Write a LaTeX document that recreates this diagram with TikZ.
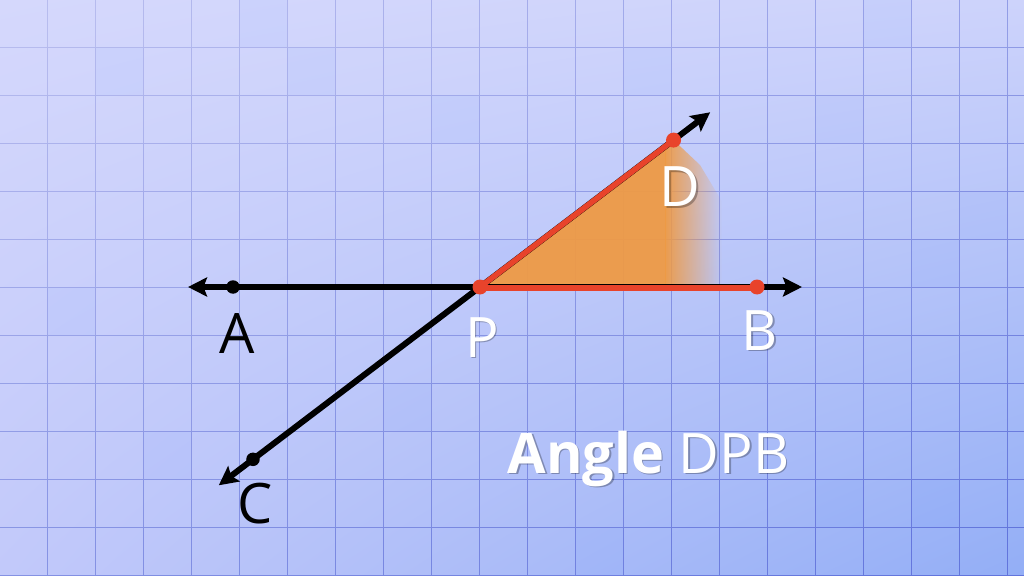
\documentclass[tikz,border=0pt]{standalone}
\usepackage{fontspec}
\setmainfont{Open Sans}
\usetikzlibrary{arrows.meta,fadings,calc,shadings}
\definecolor{bgTL}{HTML}{D5D8FC}
\definecolor{bgTR}{HTML}{CDD3FB}
\definecolor{bgBL}{HTML}{C2C9FA}
\definecolor{bgBR}{HTML}{93AEF6}
\definecolor{gridL}{HTML}{BBBFEF}
\definecolor{gridD}{HTML}{6275DC}
\definecolor{rayred}{HTML}{E8432B}
\definecolor{fillorange}{HTML}{EE9A45}
\tikzfading[name=faderight, left color=transparent!0, right color=transparent!100]
\tikzset{
  ray/.style={line width=6bp, black, >={Stealth[length=19bp,width=19bp,inset=3.5bp]}},
  redray/.style={line width=5.6bp, rayred},
  bdot/.style={circle, fill=black, inner sep=0pt, minimum size=13.5bp},
  rdot/.style={circle, fill=rayred, inner sep=0pt, minimum size=15bp},
  lbl/.style={font=\fontsize{56}{62}\selectfont, inner sep=0pt, anchor=base},
  shadowlbl/.style={lbl, text=black, opacity=0.28},
  cell/.style={fill=blue!70!cyan, opacity=0.035}
}
\begin{document}
\begin{tikzpicture}[x=1bp,y=-1bp]
\useasboundingbox (0,0) rectangle (1024,576);
% background
\shade[upper left=bgTL, upper right=bgTR, lower left=bgBL, lower right=bgBR] (0,0) rectangle (1024,576);
% subtle tinted cells
\foreach \cx/\cy in {5/0,18/0,17/2,2/1,6/1,9/2,13/1,20/4,19/5,1/6,8/8,3/9,17/10,19/10,12/11,15/7,10/5}
  \fill[cell] (47.5+48*\cx-48,47.5+48*\cy-48) rectangle ++(48,48);
% grid
\foreach \k in {-1,...,20} {
  \foreach \j in {0,...,11} {
    \pgfmathtruncatemacro\t{min(100,max(0,(47.5+48*\k)/1024*45+(48*\j+24)/576*60))}
    \draw[line width=1.3bp, gridD!\t!gridL] (47.5+48*\k,48*\j-0.5) -- ++(0,48);
  }
}
\foreach \j in {-1,...,11} {
  \foreach \k in {0,...,21} {
    \pgfmathtruncatemacro\t{min(100,max(0,(48*\k+24)/1024*45+(47.5+48*\j)/576*60))}
    \draw[line width=1.3bp, gridD!\t!gridL] (48*\k-0.5,47.5+48*\j) -- ++(48,0);
  }
}
% key points
\coordinate (P) at (480,287);
\coordinate (Ltip) at (188,287);
\coordinate (Rtip) at (802,287);
\coordinate (Dtip) at ($(P)+(-37.2:289)$);
\coordinate (Ctip) at ($(P)+(142.8:328)$);
\coordinate (Dpt) at ($(P)+(-37.2:243)$);
% orange fill
\begin{scope}
  \clip (P) -- (Dpt) -- (700,165) -- (724,205) -- (724,287) -- cycle;
  \fill[fillorange, opacity=0.95] (478,100) rectangle (666,290);
  \fill[fillorange, opacity=0.95, path fading=faderight] (665,100) rectangle (722,290);
\end{scope}
% lines
\draw[ray, <->] (Ltip) -- (Rtip);
\draw[ray, <->] (Ctip) -- (Dtip);
\node[bdot] (A) at (233,287) {};
\node[bdot] (C) at ($(P)+(142.8:285)$) {};
\node[rdot] (D) at (Dpt) {};
\node[rdot] (B) at (757,287) {};
\draw[redray, line cap=round] (P) -- (D.center);
\draw[redray, line cap=round] ([yshift=-0.8bp]P) -- ([yshift=-0.8bp]B.center);
\node[rdot] (Pd) at (P) {};
% labels
\node[lbl] (lA) at (237,353) {A};
\node[lbl] (lC) at (255,523) {C};
\node[shadowlbl] at (483.5,358.5) {P};
\node[lbl, text=white] (lP) at (482,357) {P};
\node[shadowlbl] at (761.5,351.5) {B};
\node[lbl, text=white] (lB) at (760,350) {B};
\node[shadowlbl] at (681.5,208.5) {D};
\node[lbl, text=white] (lD) at (680,207) {D};
\node[shadowlbl, anchor=base west] at (509,474.5) {\textbf{Angle} DPB};
\node[lbl, anchor=base west, text=white] (title) at (507.5,473) {\textbf{Angle} DPB};
\end{tikzpicture}
\end{document}
